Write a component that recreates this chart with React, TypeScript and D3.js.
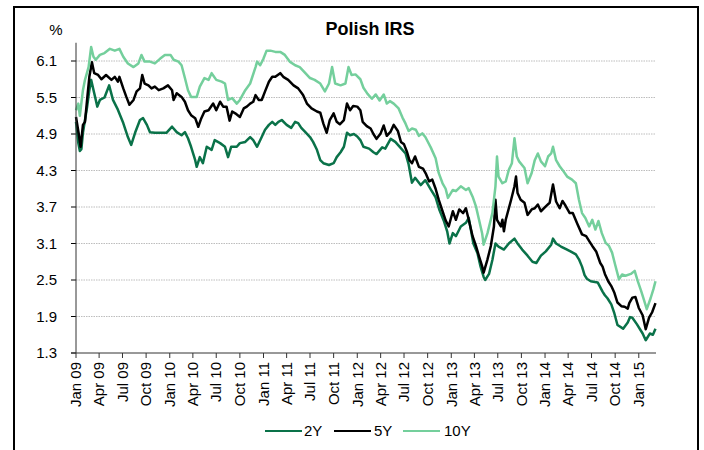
import React from "react";
import * as d3 from "d3";

const title = "Polish IRS";
const yUnit = "%";
const yTicks = [1.3, 1.9, 2.5, 3.1, 3.7, 4.3, 4.9, 5.5, 6.1];
const seriesNames = ["2Y", "5Y", "10Y"];
const seriesColors = ["#0a7249", "#000000", "#74cf9c"];

const s2Y: [string, number][] = [
  ["2009-01-01", 5.1], ["2009-01-10", 4.75], ["2009-01-16", 4.62], ["2009-01-22", 4.65], ["2009-01-28", 4.92],
  ["2009-02-13", 5.34], ["2009-02-22", 5.62], ["2009-03-01", 5.79], ["2009-03-13", 5.57], ["2009-03-25", 5.35],
  ["2009-04-04", 5.46], ["2009-04-22", 5.5], ["2009-05-10", 5.7], ["2009-05-25", 5.46], ["2009-06-13", 5.3],
  ["2009-07-04", 5.08], ["2009-07-22", 4.85], ["2009-08-04", 4.72], ["2009-08-19", 4.92], ["2009-09-07", 5.13],
  ["2009-09-19", 5.16], ["2009-10-04", 5.05], ["2009-10-16", 4.93], ["2009-11-04", 4.92], ["2009-11-25", 4.92],
  ["2009-12-19", 4.92], ["2010-01-10", 5.02], ["2010-01-28", 4.93], ["2010-02-16", 4.88], ["2010-03-01", 4.93],
  ["2010-03-13", 4.83], ["2010-03-25", 4.69], ["2010-04-10", 4.47], ["2010-04-16", 4.36], ["2010-04-28", 4.52],
  ["2010-05-10", 4.42], ["2010-05-25", 4.69], ["2010-06-13", 4.64], ["2010-06-25", 4.8], ["2010-07-16", 4.75],
  ["2010-08-04", 4.69], ["2010-08-16", 4.52], ["2010-08-28", 4.69], ["2010-09-19", 4.69], ["2010-10-01", 4.75],
  ["2010-10-22", 4.77], ["2010-11-10", 4.85], ["2010-11-22", 4.8], ["2010-12-07", 4.69], ["2010-12-25", 4.85],
  ["2011-01-07", 4.97], ["2011-01-22", 5.05], ["2011-02-04", 5.1], ["2011-02-16", 5.05], ["2011-02-28", 5.1],
  ["2011-03-13", 5.13], ["2011-04-01", 5.05], ["2011-04-19", 5.0], ["2011-05-04", 5.1], ["2011-05-16", 5.08],
  ["2011-05-28", 5.0], ["2011-06-13", 4.93], ["2011-07-01", 4.85], ["2011-07-13", 4.77], ["2011-07-28", 4.64],
  ["2011-08-10", 4.47], ["2011-08-22", 4.42], ["2011-09-13", 4.39], ["2011-10-01", 4.42], ["2011-10-13", 4.52],
  ["2011-10-28", 4.6], ["2011-11-10", 4.69], ["2011-11-22", 4.92], ["2011-12-04", 4.88], ["2011-12-19", 4.9],
  ["2012-01-01", 4.86], ["2012-01-13", 4.8], ["2012-01-25", 4.69], ["2012-02-16", 4.66], ["2012-03-04", 4.6],
  ["2012-03-16", 4.57], ["2012-04-07", 4.68], ["2012-04-19", 4.66], ["2012-05-10", 4.82], ["2012-05-28", 4.77],
  ["2012-06-16", 4.68], ["2012-07-07", 4.58], ["2012-07-19", 4.4], ["2012-08-01", 4.1], ["2012-08-13", 4.18],
  ["2012-09-04", 4.06], ["2012-09-22", 4.14], ["2012-10-13", 3.99], ["2012-11-01", 3.86], ["2012-11-16", 3.65],
  ["2012-12-04", 3.46], ["2012-12-16", 3.3], ["2012-12-25", 3.1], ["2013-01-07", 3.27], ["2013-01-19", 3.22],
  ["2013-02-07", 3.38], ["2013-02-27", 3.44], ["2013-03-10", 3.52], ["2013-03-16", 3.38], ["2013-03-28", 3.1],
  ["2013-04-13", 2.94], ["2013-04-25", 2.72], ["2013-05-07", 2.55], ["2013-05-13", 2.5], ["2013-05-28", 2.6],
  ["2013-06-10", 2.83], ["2013-06-22", 3.1], ["2013-07-04", 3.05], ["2013-07-25", 3.0], ["2013-08-13", 3.1],
  ["2013-09-04", 3.18], ["2013-09-16", 3.1], ["2013-10-04", 3.0], ["2013-10-25", 2.9], ["2013-11-13", 2.8],
  ["2013-11-28", 2.78], ["2013-12-16", 2.9], ["2014-01-04", 2.97], ["2014-01-25", 3.08], ["2014-02-01", 3.18],
  ["2014-02-13", 3.1], ["2014-03-04", 3.05], ["2014-03-22", 3.01], ["2014-04-10", 2.97], ["2014-05-01", 2.92],
  ["2014-05-13", 2.84], ["2014-05-25", 2.72], ["2014-06-04", 2.58], ["2014-06-13", 2.52], ["2014-06-28", 2.48],
  ["2014-07-25", 2.46], ["2014-08-13", 2.31], ["2014-08-22", 2.25], ["2014-09-01", 2.2], ["2014-09-16", 2.1],
  ["2014-09-28", 1.95], ["2014-10-10", 1.76], ["2014-11-01", 1.7], ["2014-11-19", 1.8], ["2014-11-28", 1.89],
  ["2014-12-07", 1.88], ["2014-12-25", 1.77], ["2015-01-16", 1.62], ["2015-01-28", 1.51], ["2015-02-13", 1.62],
  ["2015-02-25", 1.6], ["2015-03-07", 1.7],
];

const s5Y: [string, number][] = [
  ["2009-01-01", 5.18], ["2009-01-11", 4.92], ["2009-01-19", 4.69], ["2009-01-28", 5.05], ["2009-02-05", 5.1],
  ["2009-02-14", 5.5], ["2009-02-22", 5.84], ["2009-03-04", 6.08], ["2009-03-13", 5.9], ["2009-03-28", 5.87],
  ["2009-04-10", 5.8], ["2009-04-28", 5.87], ["2009-05-19", 5.79], ["2009-06-01", 5.84], ["2009-06-13", 5.76],
  ["2009-06-19", 5.84], ["2009-07-04", 5.65], ["2009-07-16", 5.51], ["2009-07-28", 5.38], ["2009-08-13", 5.46],
  ["2009-08-25", 5.6], ["2009-09-07", 5.65], ["2009-09-16", 5.87], ["2009-09-25", 5.73], ["2009-10-10", 5.7],
  ["2009-10-22", 5.65], ["2009-11-04", 5.68], ["2009-11-19", 5.62], ["2009-12-07", 5.65], ["2009-12-25", 5.7],
  ["2010-01-10", 5.62], ["2010-01-16", 5.46], ["2010-01-28", 5.57], ["2010-02-16", 5.51], ["2010-03-01", 5.43],
  ["2010-03-13", 5.29], ["2010-03-25", 5.21], ["2010-04-10", 5.16], ["2010-04-22", 5.02], ["2010-05-04", 5.16],
  ["2010-05-16", 5.27], ["2010-06-01", 5.29], ["2010-06-19", 5.4], ["2010-07-01", 5.29], ["2010-07-16", 5.43],
  ["2010-07-28", 5.35], ["2010-08-10", 5.35], ["2010-08-22", 5.12], ["2010-09-01", 5.27], ["2010-09-13", 5.24],
  ["2010-10-01", 5.18], ["2010-10-16", 5.32], ["2010-10-28", 5.35], ["2010-11-10", 5.4], ["2010-11-22", 5.43],
  ["2010-12-01", 5.54], ["2010-12-13", 5.46], ["2010-12-25", 5.46], ["2011-01-07", 5.6], ["2011-01-22", 5.76],
  ["2011-02-04", 5.84], ["2011-02-16", 5.84], ["2011-03-07", 5.9], ["2011-03-19", 5.84], ["2011-04-07", 5.79],
  ["2011-04-28", 5.7], ["2011-05-16", 5.65], ["2011-06-04", 5.54], ["2011-06-19", 5.4], ["2011-07-07", 5.32],
  ["2011-07-28", 5.27], ["2011-08-10", 5.25], ["2011-08-22", 5.07], ["2011-09-04", 4.92], ["2011-09-16", 5.13],
  ["2011-10-01", 5.24], ["2011-10-13", 5.1], ["2011-10-25", 5.06], ["2011-11-10", 5.13], ["2011-11-22", 5.4],
  ["2011-12-04", 5.29], ["2011-12-16", 5.36], ["2012-01-01", 5.35], ["2012-01-13", 5.29], ["2012-01-22", 5.1],
  ["2012-02-07", 5.03], ["2012-02-22", 4.99], ["2012-03-04", 4.9], ["2012-03-16", 4.82], ["2012-04-01", 4.91],
  ["2012-04-13", 5.04], ["2012-04-25", 4.87], ["2012-05-10", 4.94], ["2012-05-22", 5.05], ["2012-06-07", 4.95],
  ["2012-06-19", 4.77], ["2012-07-01", 4.73], ["2012-07-13", 4.6], ["2012-07-22", 4.47], ["2012-08-01", 4.42],
  ["2012-08-13", 4.53], ["2012-08-28", 4.36], ["2012-09-13", 4.33], ["2012-09-25", 4.24], ["2012-10-07", 4.12],
  ["2012-10-19", 4.15], ["2012-11-01", 4.0], ["2012-11-13", 3.82], ["2012-11-28", 3.63], ["2012-12-10", 3.48],
  ["2012-12-22", 3.38], ["2013-01-07", 3.63], ["2013-01-19", 3.49], ["2013-02-01", 3.66], ["2013-02-16", 3.6],
  ["2013-02-27", 3.68], ["2013-03-10", 3.49], ["2013-03-25", 3.22], ["2013-04-07", 3.06], ["2013-04-19", 2.89],
  ["2013-05-01", 2.73], ["2013-05-07", 2.62], ["2013-05-22", 2.84], ["2013-06-04", 3.06], ["2013-06-16", 3.38],
  ["2013-06-22", 3.82], ["2013-06-28", 3.49], ["2013-07-13", 3.38], ["2013-07-19", 3.49], ["2013-07-25", 3.3],
  ["2013-08-01", 3.49], ["2013-08-22", 3.82], ["2013-09-04", 4.04], ["2013-09-10", 4.2], ["2013-09-16", 3.93],
  ["2013-09-28", 3.82], ["2013-10-13", 3.77], ["2013-10-25", 3.57], ["2013-11-10", 3.66], ["2013-11-22", 3.68],
  ["2013-12-04", 3.74], ["2013-12-16", 3.63], ["2014-01-04", 3.71], ["2014-01-19", 3.77], ["2014-02-01", 4.07],
  ["2014-02-13", 3.79], ["2014-02-27", 3.68], ["2014-03-10", 3.8], ["2014-03-22", 3.72], ["2014-04-07", 3.6],
  ["2014-04-19", 3.6], ["2014-05-07", 3.42], ["2014-05-25", 3.25], ["2014-06-10", 3.22], ["2014-06-22", 3.14],
  ["2014-07-04", 3.06], ["2014-07-19", 2.97], ["2014-08-04", 2.78], ["2014-08-13", 2.72], ["2014-08-22", 2.6],
  ["2014-09-04", 2.48], ["2014-09-16", 2.4], ["2014-09-28", 2.29], ["2014-10-10", 2.13], ["2014-10-25", 2.07],
  ["2014-11-07", 2.06], ["2014-11-19", 2.03], ["2014-11-25", 2.12], ["2014-12-07", 2.21], ["2014-12-19", 2.22],
  ["2015-01-01", 2.04], ["2015-01-16", 1.92], ["2015-01-28", 1.69], ["2015-02-10", 1.88], ["2015-02-22", 1.97],
  ["2015-03-07", 2.12],
];

const s10Y: [string, number][] = [
  ["2009-01-01", 5.29], ["2009-01-10", 5.4], ["2009-01-16", 5.2], ["2009-01-28", 5.62], ["2009-02-05", 5.79],
  ["2009-02-19", 6.0], ["2009-03-01", 6.33], ["2009-03-10", 6.17], ["2009-03-19", 6.12], ["2009-04-04", 6.2],
  ["2009-04-22", 6.23], ["2009-05-13", 6.3], ["2009-06-01", 6.27], ["2009-06-19", 6.3], ["2009-07-04", 6.17],
  ["2009-07-22", 6.06], ["2009-08-13", 6.0], ["2009-09-01", 6.06], ["2009-09-13", 6.2], ["2009-09-25", 6.09],
  ["2009-10-16", 6.09], ["2009-11-04", 6.06], ["2009-11-25", 6.14], ["2009-12-13", 6.2], ["2010-01-04", 6.2],
  ["2010-01-16", 6.12], ["2010-02-04", 6.09], ["2010-02-16", 6.03], ["2010-03-01", 5.82], ["2010-03-13", 5.62],
  ["2010-03-25", 5.51], ["2010-04-16", 5.51], ["2010-04-28", 5.68], ["2010-05-16", 5.82], ["2010-06-01", 5.79],
  ["2010-06-13", 5.9], ["2010-07-01", 5.79], ["2010-07-22", 5.76], ["2010-08-04", 5.73], ["2010-08-16", 5.46],
  ["2010-09-01", 5.49], ["2010-09-19", 5.4], ["2010-10-01", 5.46], ["2010-10-22", 5.62], ["2010-11-10", 5.73],
  ["2010-12-01", 6.0], ["2010-12-07", 6.09], ["2010-12-19", 6.03], ["2011-01-01", 6.14], ["2011-01-13", 6.27],
  ["2011-01-28", 6.27], ["2011-02-16", 6.25], ["2011-03-07", 6.25], ["2011-03-25", 6.2], ["2011-04-13", 6.09],
  ["2011-05-04", 6.03], ["2011-05-22", 6.0], ["2011-06-13", 5.9], ["2011-07-01", 5.82], ["2011-07-19", 5.79],
  ["2011-08-10", 5.73], ["2011-08-28", 5.6], ["2011-09-13", 5.73], ["2011-09-25", 6.0], ["2011-10-07", 5.73],
  ["2011-10-28", 5.7], ["2011-11-16", 5.73], ["2011-11-28", 6.0], ["2011-12-10", 5.87], ["2011-12-25", 5.88],
  ["2012-01-13", 5.8], ["2012-01-25", 5.66], ["2012-02-10", 5.56], ["2012-02-27", 5.48], ["2012-03-13", 5.55],
  ["2012-03-28", 5.45], ["2012-04-13", 5.55], ["2012-04-25", 5.4], ["2012-05-07", 5.44], ["2012-05-22", 5.4],
  ["2012-06-10", 5.32], ["2012-06-25", 5.17], ["2012-07-07", 5.07], ["2012-07-19", 4.95], ["2012-08-01", 4.99],
  ["2012-08-16", 4.97], ["2012-08-28", 4.87], ["2012-09-10", 4.91], ["2012-09-22", 4.85], ["2012-10-13", 4.68],
  ["2012-11-01", 4.5], ["2012-11-13", 4.26], ["2012-11-28", 4.09], ["2012-12-10", 4.0], ["2012-12-19", 3.85],
  ["2013-01-07", 3.98], ["2013-01-19", 3.96], ["2013-02-07", 4.04], ["2013-02-27", 3.98], ["2013-03-10", 4.01],
  ["2013-03-25", 3.87], ["2013-04-07", 3.71], ["2013-04-19", 3.49], ["2013-05-01", 3.27], ["2013-05-07", 3.08],
  ["2013-05-22", 3.27], ["2013-06-10", 3.6], ["2013-06-22", 4.04], ["2013-06-28", 4.53], ["2013-07-04", 4.2],
  ["2013-07-19", 4.09], ["2013-08-01", 4.12], ["2013-08-13", 4.31], ["2013-08-25", 4.42], ["2013-09-04", 4.83],
  ["2013-09-13", 4.53], ["2013-09-22", 4.45], ["2013-10-13", 4.34], ["2013-10-25", 4.09], ["2013-11-10", 4.26],
  ["2013-11-22", 4.47], ["2013-12-04", 4.58], ["2013-12-16", 4.45], ["2014-01-01", 4.37], ["2014-01-13", 4.53],
  ["2014-01-25", 4.58], ["2014-02-01", 4.69], ["2014-02-13", 4.47], ["2014-02-27", 4.37], ["2014-03-10", 4.31],
  ["2014-03-28", 4.2], ["2014-04-16", 4.15], ["2014-05-01", 4.09], ["2014-05-13", 3.82], ["2014-05-25", 3.6],
  ["2014-06-07", 3.52], ["2014-06-22", 3.38], ["2014-07-04", 3.49], ["2014-07-16", 3.33], ["2014-07-28", 3.47],
  ["2014-08-10", 3.27], ["2014-08-25", 3.11], ["2014-09-07", 3.06], ["2014-09-19", 2.95], ["2014-10-01", 2.75],
  ["2014-10-16", 2.51], ["2014-10-28", 2.59], ["2014-11-10", 2.57], ["2014-12-01", 2.6], ["2014-12-16", 2.65],
  ["2014-12-28", 2.48], ["2015-01-10", 2.32], ["2015-01-22", 2.16], ["2015-02-01", 2.02], ["2015-02-16", 2.2],
  ["2015-02-27", 2.35], ["2015-03-07", 2.48],
];

const allSeries = [s2Y, s5Y, s10Y];
const font = "Arial, 'Liberation Sans', sans-serif";

export default function App() {
  const W = 704, H = 450;
  const left = 76, right = 656, top = 42.75, bottom = 353;
  const parse = d3.timeParse("%Y-%m-%d");
  const x = d3.scaleTime()
    .domain([parse("2009-01-01")!, parse("2015-03-09")!])
    .range([left, right]);
  const y = d3.scaleLinear().domain([1.3, 6.4]).range([bottom, top]);
  const line = d3.line<[string, number]>()
    .x((d) => x(parse(d[0])!))
    .y((d) => y(d[1]))
    .curve(d3.curveLinear);
  const xTicks = d3.timeMonth.every(3)!.range(parse("2009-01-01")!, parse("2015-01-02")!);
  const fmt = d3.timeFormat("%b %y");

  const legendItems = [
    { x0: 265, tx: 304 },
    { x0: 334, tx: 374 },
    { x0: 403, tx: 444 },
  ];
  const legendY = 431;

  return (
    <svg width={W} height={H} style={{ position: "absolute", left: 0, top: 0, background: "#fff" }}
      fontFamily={font}>
      <rect x={0} y={0} width={W} height={H} fill="#fff" />
      <rect x={14} y={7} width={684} height={470} fill="none" stroke="#000" strokeWidth={2} />
      <text x={370} y={35} textAnchor="middle" fontSize={18} fontWeight="bold" fill="#000">{title}</text>
      <text x={56} y={35} textAnchor="middle" fontSize={15} fill="#000">{yUnit}</text>
      {yTicks.slice(1).map((t) => (
        <line key={"g" + t} x1={left} x2={right} y1={y(t)} y2={y(t)} stroke="#bdbdbd" strokeWidth={1}
          strokeDasharray="1.5,1" />
      ))}
      {yTicks.map((t) => (
        <g key={"y" + t}>
          <line x1={left - 5} x2={left} y1={y(t)} y2={y(t)} stroke="#000" strokeWidth={1} />
          <text x={left - 19} y={y(t)} dy="0.36em" textAnchor="end" fontSize={15} fill="#000">{t.toFixed(1)}</text>
        </g>
      ))}
      {allSeries.map((s, i) => (
        <path key={seriesNames[i]} d={line(s) || ""} fill="none" stroke={seriesColors[i]} strokeWidth={2.5}
          strokeLinejoin="round" />
      ))}
      <line x1={left} x2={left} y1={top} y2={bottom} stroke="#333" strokeWidth={1} />
      <line x1={left - 5} x2={right} y1={bottom} y2={bottom} stroke="#333" strokeWidth={1} />
      {xTicks.map((t) => (
        <g key={t.toISOString()}>
          <line x1={x(t)} x2={x(t)} y1={bottom} y2={bottom + 5} stroke="#333" strokeWidth={1} />
          <text transform={`translate(${x(t)},${bottom + 9}) rotate(-90)`} dy="0.35em" textAnchor="end"
            fontSize={15} fill="#000">{fmt(t)}</text>
        </g>
      ))}
      {legendItems.map((l, i) => (
        <g key={"l" + i}>
          <line x1={l.x0} x2={l.x0 + 37} y1={legendY} y2={legendY} stroke={seriesColors[i]} strokeWidth={2} />
          <text x={l.tx} y={legendY} dy="0.36em" fontSize={15} fill="#000">{seriesNames[i]}</text>
        </g>
      ))}
    </svg>
  );
}
